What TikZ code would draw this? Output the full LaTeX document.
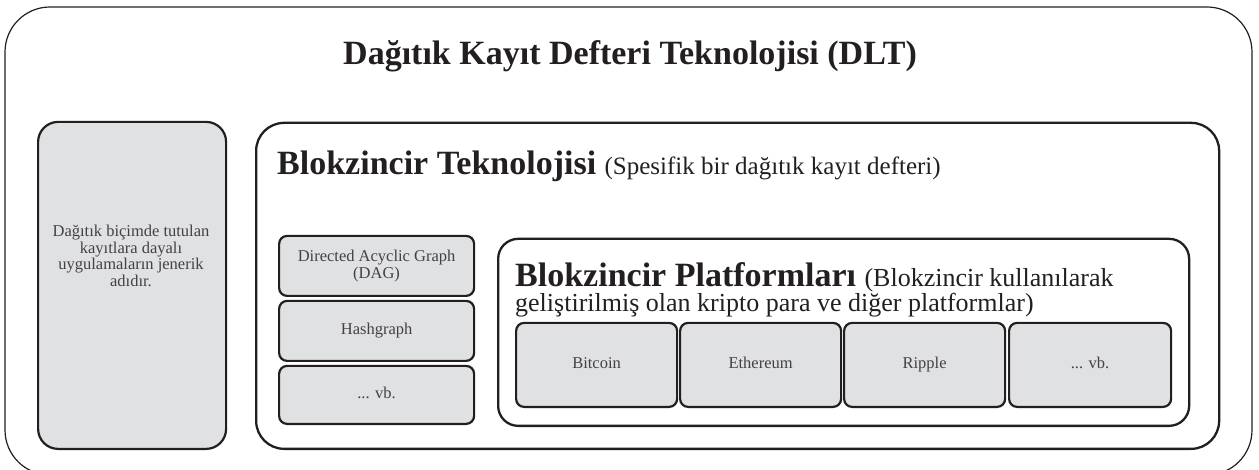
\documentclass[tikz,border=0pt]{standalone}
\usepackage{fontspec}
\setmainfont{Liberation Serif}
\definecolor{boxgray}{HTML}{E0E1E3}
\definecolor{ink}{HTML}{231F20}
\begin{document}
\begin{tikzpicture}[x=1pt,y=1pt,
  outer/.style={draw=ink,line width=1.2pt,rounded corners=45pt},
  frame/.style={draw=ink,line width=2.3pt,rounded corners=22pt,inner sep=0pt},
  graybox/.style={draw=ink,fill=boxgray,line width=2.2pt,rounded corners=8pt,inner sep=0pt,align=center,font=\fontsize{16.5}{17}\selectfont,text=ink!85},
  oneline/.style={text height=11pt,text depth=3.5pt},
]
\useasboundingbox (0,0) rectangle (1259,469);
% outer DLT box (bottom cut off by page)
\draw[outer] (5,-6) rectangle (1252,462);
\node[anchor=base,inner sep=0pt,text=ink,font=\fontsize{34}{36}\selectfont\bfseries] (title) at (630,404) {Dağıtık Kayıt Defteri Teknolojisi (DLT)};

% left gray box
\node[graybox,rounded corners=20pt,minimum width=188pt,minimum height=327pt,anchor=south west] (dlt) at (37,19) {};
\node[inner sep=0pt,align=center,font=\fontsize{16.5}{16.5}\selectfont,text=ink!85] (dlttext) at (131,213)
  {Dağıtık biçimde tutulan\\kayıtlara dayalı\\uygulamaların jenerik\\adıdır.};

% Blokzincir Teknolojisi frame
\node[frame,rounded corners=28pt,minimum width=963pt,minimum height=326pt,anchor=south west] (bt) at (255,19) {};
\node[anchor=base west,inner sep=0pt,text=ink] (bttext) at (277,294)
  {\fontsize{34}{36}\selectfont\bfseries Blokzincir Teknolojisi \fontsize{25}{27}\selectfont\mdseries(Spesifik bir dağıtık kayıt defteri)};

% left stack
\node[graybox,minimum width=195pt,minimum height=60pt,anchor=south west] (dag) at (278,172) {Directed Acyclic Graph\\(DAG)};
\node[graybox,oneline,minimum width=195pt,minimum height=60pt,anchor=south west] (hash) at (278,107) {Hashgraph};
\node[graybox,oneline,minimum width=195pt,minimum height=58pt,anchor=south west] (vb1) at (278,44) {... vb.};

% Blokzincir Platformlari frame
\node[frame,rounded corners=20pt,minimum width=691pt,minimum height=187pt,anchor=south west] (bp) at (497,42) {};
\node[anchor=base west,inner sep=0pt,text=ink] (bptext) at (515,182)
  {\fontsize{34}{36}\selectfont\bfseries Blokzincir Platformları \fontsize{26}{28}\selectfont\mdseries(Blokzincir kullanılarak};
\node[anchor=base west,inner sep=0pt,text=ink] (bptext2) at (515,157)
  {\fontsize{26}{28}\selectfont geliştirilmiş olan kripto para ve diğer platformlar)};

% platform items
\node[graybox,oneline,minimum width=161pt,minimum height=84pt,anchor=south west] (btc) at (515,61) {Bitcoin};
\node[graybox,oneline,minimum width=161pt,minimum height=84pt,anchor=south west] (eth) at (679,61) {Ethereum};
\node[graybox,oneline,minimum width=161pt,minimum height=84pt,anchor=south west] (xrp) at (843,61) {Ripple};
\node[graybox,oneline,minimum width=162pt,minimum height=84pt,anchor=south west] (vb2) at (1008,61) {... vb.};
\end{tikzpicture}
\end{document}
